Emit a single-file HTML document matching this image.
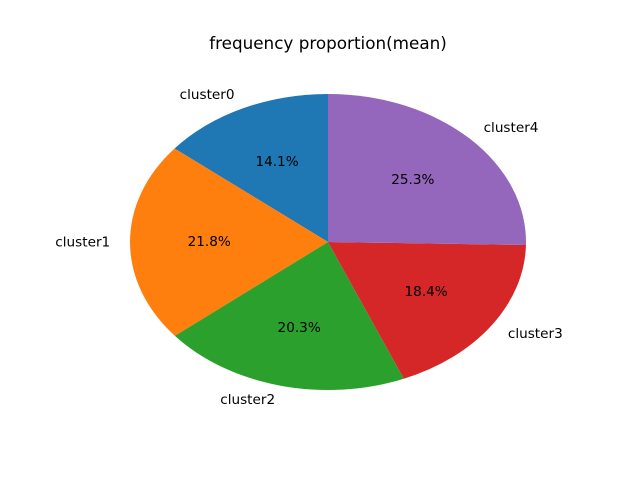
<!DOCTYPE html>
<html>
<head>
<meta charset="utf-8">
<style>
  html,body{margin:0;padding:0;background:#fff;}
  svg{display:block;}
  text{font-family:"DejaVu Sans","Liberation Sans",sans-serif;}
</style>
</head>
<body>
<svg id="chart" width="640" height="480" viewBox="0 0 640 480">
  <text x="328" y="49" font-size="16.8" text-anchor="middle" fill="#000">frequency proportion(mean)</text>
  <g id="slices"></g>
  <g id="labels"></g>
</svg>
<script>
const categories = ["cluster0", "cluster1", "cluster2", "cluster3", "cluster4"];
const values = [14.1, 21.8, 20.3, 18.4, 25.3];
const pctLabels = ["14.1%", "21.8%", "20.3%", "18.4%", "25.3%"];
const colors = ["#1f77b4", "#ff7f0e", "#2ca02c", "#d62728", "#9467bd"];

const cx = 328, cy = 242, rx = 198, ry = 148;
const NS = "http://www.w3.org/2000/svg";
const total = values.reduce((a, b) => a + b, 0);
const gS = document.getElementById("slices");
const gL = document.getElementById("labels");

function pt(angDeg, f) {
  const a = angDeg * Math.PI / 180;
  return [cx + f * rx * Math.cos(a), cy - f * ry * Math.sin(a)];
}

let start = 90;
values.forEach((v, i) => {
  const sweep = v / total * 360;
  const end = start + sweep;
  const p0 = pt(start, 1), p1 = pt(end, 1);
  const large = sweep > 180 ? 1 : 0;
  const path = document.createElementNS(NS, "path");
  path.setAttribute("d", `M${cx},${cy} L${p0[0]},${p0[1]} A${rx},${ry} 0 ${large} 0 ${p1[0]},${p1[1]} Z`);
  path.setAttribute("fill", colors[i]);
  
  
  gS.appendChild(path);

  const mid = start + sweep / 2;
  const lp = pt(mid, 1.1);
  const t = document.createElementNS(NS, "text");
  t.setAttribute("x", lp[0]);
  t.setAttribute("y", lp[1]);
  t.setAttribute("font-size", "13.6");
  t.setAttribute("dominant-baseline", "central");
  t.setAttribute("text-anchor", Math.cos(mid * Math.PI / 180) < 0 ? "end" : "start");
  t.textContent = categories[i];
  
  
  gL.appendChild(t);

  const pp = pt(mid, 0.6);
  const t2 = document.createElementNS(NS, "text");
  t2.setAttribute("x", pp[0]);
  t2.setAttribute("y", pp[1]);
  t2.setAttribute("font-size", "13.6");
  t2.setAttribute("dominant-baseline", "central");
  t2.setAttribute("text-anchor", "middle");
  t2.textContent = pctLabels[i];
  
  
  gL.appendChild(t2);

  start = end;
});
</script>
</body>
</html>
